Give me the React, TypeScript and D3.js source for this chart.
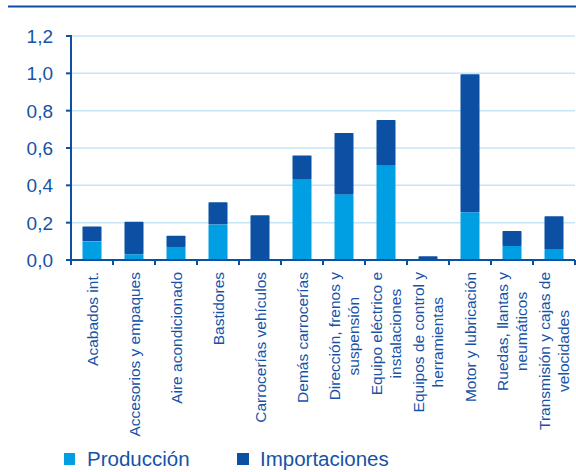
import React from "react";
import * as d3 from "d3";

const categories: string[][] = [
  ["Acabados int."],
  ["Accesorios y empaques"],
  ["Aire acondicionado"],
  ["Bastidores"],
  ["Carrocerías vehículos"],
  ["Demás carrocerías"],
  ["Dirección, frenos y", "suspensión"],
  ["Equipo eléctrico e", "instalaciones"],
  ["Equipos de control y", "herramientas"],
  ["Motor y lubricación"],
  ["Ruedas, llantas y", "neumáticos"],
  ["Transmisión y cajas de", "velocidades"],
];
const produccion = [0.1, 0.03, 0.07, 0.19, 0.0, 0.43, 0.35, 0.505, 0.0, 0.255, 0.075, 0.055];
const importaciones = [0.08, 0.175, 0.06, 0.12, 0.24, 0.13, 0.33, 0.245, 0.02, 0.74, 0.08, 0.18];
const yTicks = [0, 0.2, 0.4, 0.6, 0.8, 1.0, 1.2];
const seriesNames = ["Producción", "Importaciones"];

const LIGHT = "#009FE3";
const DARK = "#0B50A3";
const TEXT = "#1553A8";
const GRID = "#C6E6F6";
const FONT = "'Liberation Sans', Arial, sans-serif";

let ctx: CanvasRenderingContext2D | null = null;
function measure(t: string, size: number) {
  if (!ctx) ctx = document.createElement("canvas").getContext("2d");
  if (!ctx) return t.length * size * 0.5;
  ctx.font = `${size}px ${FONT}`;
  return ctx.measureText(t).width;
}

export default function App() {
  const W = 576, H = 472;
  const left = 71, right = 575, top = 36, bottom = 260;
  const x = d3.scaleBand<number>().domain(d3.range(categories.length)).range([left, right]).paddingInner(0).paddingOuter(0);
  const y = d3.scaleLinear().domain([0, 1.2]).range([bottom, top]);
  const barW = 19;
  const labelSize = 15.5;
  const lineH = 19;

  return (
    <svg width={W} height={H} style={{ position: "absolute", left: 0, top: 0, background: "#fff" }} fontFamily={FONT}>
      <line x1={8} x2={576} y1={6.5} y2={6.5} stroke={DARK} strokeWidth={2} />
      {yTicks.slice(1).map((t) => (
        <line key={t} x1={left} x2={right} y1={y(t)} y2={y(t)} stroke={GRID} strokeWidth={1.5} />
      ))}
      {categories.map((_, i) => {
        const cx = (x(i) as number) + x.bandwidth() / 2;
        const p = produccion[i];
        const m = importaciones[i];
        return (
          <g key={i}>
            {m > 0 && (
              <rect x={cx - barW / 2} y={y(p + m)} width={barW} height={y(p) - y(p + m)} fill={DARK} rx={0.8} />
            )}
            {p > 0 && <rect x={cx - barW / 2} y={y(p)} width={barW} height={y(0) - y(p)} fill={LIGHT} />}
          </g>
        );
      })}
      {/* axes */}
      <line x1={left} x2={left} y1={top - 1} y2={bottom} stroke={DARK} strokeWidth={2} />
      <line x1={left - 5} x2={right} y1={bottom} y2={bottom} stroke={DARK} strokeWidth={2} />
      {yTicks.map((t) => (
        <g key={t}>
          <line x1={left - 5} x2={left} y1={y(t)} y2={y(t)} stroke={DARK} strokeWidth={2} />
          <text x={53} y={y(t) + 7} textAnchor="end" fontSize={19} fill={TEXT}>
            {d3.format(".1f")(t).replace(".", ",")}
          </text>
        </g>
      ))}
      {d3.range(categories.length + 1).map((i) => {
        const xx = left + i * x.bandwidth();
        return <line key={i} x1={xx} x2={xx} y1={bottom} y2={bottom + 5} stroke={DARK} strokeWidth={2} />;
      })}
      {categories.map((lines, i) => {
        const cx = (x(i) as number) + x.bandwidth() / 2;
        const maxW = Math.max(...lines.map((l) => measure(l, labelSize)));
        const cy = 272 + maxW / 2;
        const n = lines.length;
        return (
          <g key={i}>
            {lines.map((l, j) => {
              const vc = cx + (j - (n - 1) / 2) * lineH;
              const bx = vc + labelSize * 0.36;
              return (
                <text
                  key={j}
                  transform={`translate(${bx},${cy}) rotate(-90)`}
                  textAnchor="middle"
                  fontSize={labelSize}
                  fill={TEXT}
                >
                  {l}
                </text>
              );
            })}
          </g>
        );
      })}
      {/* legend */}
      <rect x={64} y={453} width={11} height={12} fill={LIGHT} />
      <text x={87} y={466} fontSize={20.5} fill={TEXT}>{seriesNames[0]}</text>
      <rect x={237} y={453} width={12} height={12} fill={DARK} />
      <text x={260} y={466} fontSize={20.5} fill={TEXT}>{seriesNames[1]}</text>
    </svg>
  );
}
